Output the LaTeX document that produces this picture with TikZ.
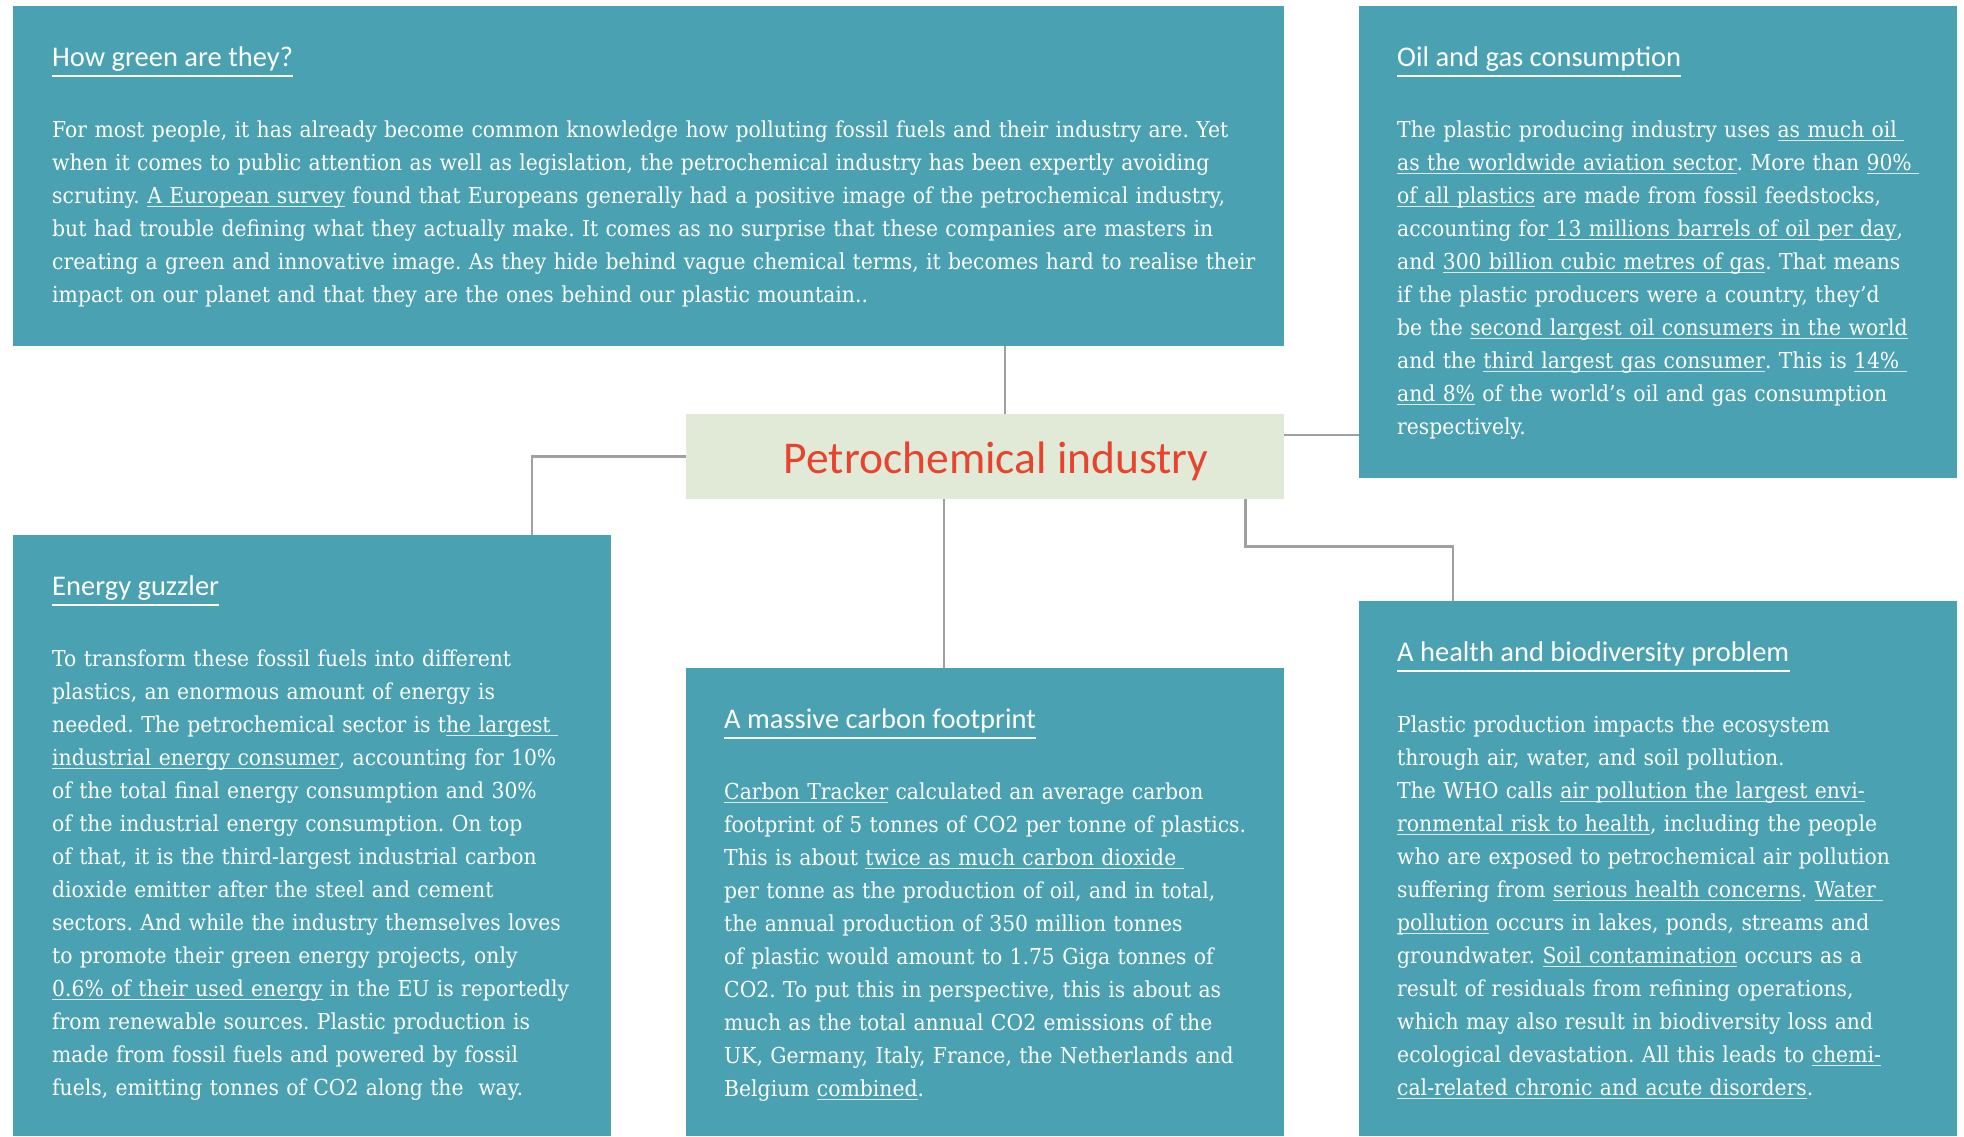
\documentclass[tikz,border=0pt]{standalone}
\usepackage{fontspec}
\usepackage{xcolor}
\newfontfamily\headfont{Carlito}
\newfontfamily\bodyfont[FakeStretch=0.925]{DejaVu Serif}
\definecolor{tealbox}{HTML}{4AA1B2}
\definecolor{hubfill}{HTML}{E1EAD6}
\definecolor{hubred}{HTML}{E8432E}
\definecolor{wiregray}{HTML}{A0A0A0}
\definecolor{linkline}{HTML}{D8ECF0}
\newcommand{\lnk}[1]{\leavevmode\setbox0\hbox{#1}\rlap{\color{linkline}\rule[-3.5pt]{\wd0}{1.2pt}}\box0\relax}
\frenchspacing
\tikzset{
 panel/.style={fill=tealbox, draw=none, inner sep=0pt, anchor=north west},
 hubbox/.style={fill=hubfill, draw=none, inner sep=0pt, anchor=north west},
 wire/.style={draw=wiregray, line width=2.5pt},
 headtxt/.style={font=\headfont\fontsize{28.5}{34}\selectfont, text=white, inner sep=0pt, anchor=base west},
 headline/.style={draw=white, line width=2.5pt},
 bodytxt/.style={font=\bodyfont\fontsize{22}{33.05}\selectfont, text=white, inner sep=0pt, anchor=north west, align=left},
}

\begin{document}
\begin{tikzpicture}[x=1pt,y=-1pt]
    \useasboundingbox (0,0) rectangle (1964,1136);

    % panels
    \node[panel, minimum width=1271pt, minimum height=340pt] (green) at (13,6) {};
    \node[panel, minimum width=598pt, minimum height=472pt] (oil) at (1359,6) {};
    \node[hubbox, minimum width=598pt, minimum height=85pt] (hub) at (686,414) {};
    \node[panel, minimum width=598pt, minimum height=601pt] (energy) at (13,535) {};
    \node[panel, minimum width=598pt, minimum height=468pt] (carbon) at (686,668) {};
    \node[panel, minimum width=598pt, minimum height=535pt] (health) at (1359,601) {};

    \node[font=\headfont\fontsize{45.5}{50}\selectfont, text=hubred, inner sep=0pt] (hubtext) at ([xshift=11pt,yshift=-5pt]hub.center) {Petrochemical industry};

    % connectors
    \draw[wire] ([xshift=20pt]hub.north) -- ([xshift=20pt]hub.north |- green.south);
    \draw[wire] (hub.west) -| ([xshift=519pt]energy.north west);
    \draw[wire] ([xshift=-41pt]hub.south) -- ([xshift=-41pt]hub.south |- carbon.north);
    \draw[wire] ([yshift=21.5pt]hub.east) -- ([yshift=21.5pt]hub.east -| oil.west);
    \draw[wire] ([xshift=-39pt]hub.south east) -- ++(0,47) -| ([xshift=94pt]health.north west);

    % headings
    \node[headtxt] (greenhead) at ([xshift=39pt,yshift=-60pt]green.north west) {How green are they?};
    \node[headtxt] (oilhead) at ([xshift=38pt,yshift=-60pt]oil.north west) {Oil and gas consumption};
    \node[headtxt] (energyhead) at ([xshift=39pt,yshift=-60pt]energy.north west) {Energy guzzler};
    \node[headtxt] (carbonhead) at ([xshift=38pt,yshift=-60pt]carbon.north west) {A massive carbon footprint};
    \node[headtxt] (healthhead) at ([xshift=38pt,yshift=-60pt]health.north west) {A health and biodiversity problem};
    \foreach \h in {greenhead,oilhead,energyhead,carbonhead,healthhead}
        \draw[headline] ([yshift=-10pt]\h.base west) -- ([yshift=-10pt]\h.base east);

    % body texts
    \node[bodytxt, text width=1240pt] (greentext) at ([xshift=39pt,yshift=-108pt]green.north west) {\strut For most people, it has already become common knowledge how polluting fossil fuels and their industry are. Yet\\
when it comes to public attention as well as legislation, the petrochemical industry has been expertly avoiding\\
scrutiny. \lnk{A European survey} found that Europeans generally had a positive image of the petrochemical industry,\\
but had trouble defining what they actually make. It comes as no surprise that these companies are masters in\\
creating a green and innovative image. As they hide behind vague chemical terms, it becomes hard to realise their\\
impact on our planet and that they are the ones behind our plastic mountain..};

    \node[bodytxt, text width=570pt] (oiltext) at ([xshift=38pt,yshift=-108pt]oil.north west) {\strut The plastic producing industry uses \lnk{as much oil }\\
\lnk{as the worldwide aviation sector}. More than \lnk{90\% }\\
\lnk{of all plastics} are made from fossil feedstocks,\\
accounting for\lnk{ 13 millions barrels of oil per day},\\
and \lnk{300 billion cubic metres of gas}. That means\\
if the plastic producers were a country, they’d\\
be the \lnk{second largest oil consumers in the world}\\
and the \lnk{third largest gas consumer}. This is \lnk{14\% }\\
\lnk{and 8\%} of the world’s oil and gas consumption\\
respectively.};

    \node[bodytxt, text width=570pt] (energytext) at ([xshift=39pt,yshift=-108pt]energy.north west) {\strut To transform these fossil fuels into different\\
plastics, an enormous amount of energy is\\
needed. The petrochemical sector is t\lnk{he largest }\\
\lnk{industrial energy consumer}, accounting for 10\%\\
of the total final energy consumption and 30\%\\
of the industrial energy consumption. On top\\
of that, it is the third-largest industrial carbon\\
dioxide emitter after the steel and cement\\
sectors. And while the industry themselves loves\\
to promote their green energy projects, only\\
\lnk{0.6\% of their used energy} in the EU is reportedly\\
from renewable sources. Plastic production is\\
made from fossil fuels and powered by fossil\\
fuels, emitting tonnes of CO2 along the\ \ way.};

    \node[bodytxt, text width=570pt] (carbontext) at ([xshift=38pt,yshift=-108pt]carbon.north west) {\strut\lnk{Carbon Tracker} calculated an average carbon\\
footprint of 5 tonnes of CO2 per tonne of plastics.\\
This is about \lnk{twice as much carbon dioxide }\\
per tonne as the production of oil, and in total,\\
the annual production of 350 million tonnes\\
of plastic would amount to 1.75 Giga tonnes of\\
CO2. To put this in perspective, this is about as\\
much as the total annual CO2 emissions of the\\
UK, Germany, Italy, France, the Netherlands and\\
Belgium \lnk{combined}.};

    \node[bodytxt, text width=570pt] (healthtext) at ([xshift=38pt,yshift=-108pt]health.north west) {\strut Plastic production impacts the ecosystem\\
through air, water, and soil pollution.\\
The WHO calls \lnk{air pollution the largest envi-}\\
\lnk{ronmental risk to health}, including the people\\
who are exposed to petrochemical air pollution\\
suffering from \lnk{serious health concerns}. \lnk{Water }\\
\lnk{pollution} occurs in lakes, ponds, streams and\\
groundwater. \lnk{Soil contamination} occurs as a\\
result of residuals from refining operations,\\
which may also result in biodiversity loss and\\
ecological devastation. All this leads to \lnk{chemi-}\\
\lnk{cal-related chronic and acute disorders}.};
\end{tikzpicture}
\end{document}
